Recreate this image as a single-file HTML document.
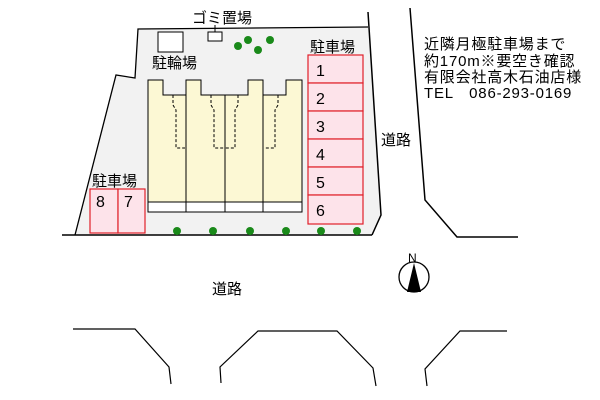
<!DOCTYPE html>
<html><head><meta charset="utf-8"><style>
body{margin:0;background:#fff;}
svg{display:block;font-family:"Liberation Sans","Noto Sans CJK JP",sans-serif;}
</style></head><body>
<svg width="600" height="400" viewBox="0 0 600 400" xmlns="http://www.w3.org/2000/svg">
<polygon points="138,29 370,27 381,215 372,235 75,235 116,75 135,78" fill="#f2f2f2" stroke="none"/>
<polyline points="368,12 381,215 372,235" fill="none" stroke="#000" stroke-width="1.5"/>
<polyline points="62,235 372,235" fill="none" stroke="#000" stroke-width="1.5"/>
<polyline points="75,235 116,75 135,78 138,29 368,27" fill="none" stroke="#000" stroke-width="1.3"/>
<polyline points="410,8 425,200 457,237 518,237" fill="none" stroke="#000" stroke-width="1.5"/>
<polyline points="73,329 135,329 169,367 171,384" fill="none" stroke="#000" stroke-width="1.2"/>
<polyline points="221,383 220,367 258,331 337,331 373,368 376,386" fill="none" stroke="#000" stroke-width="1.2"/>
<polyline points="427,386 425,369 460,331 507,331" fill="none" stroke="#000" stroke-width="1.2"/>
<g fill="#fcf8d4" stroke="#000" stroke-width="1">
<polygon points="148,80 163,80 163,95 186,95 186,212 148,212"/>
<polygon points="186,80 201,80 201,95 225,95 225,212 186,212"/>
<polygon points="225,95 248,95 248,80 263,80 263,212 225,212"/>
<polygon points="263,95 286,95 286,80 302,80 302,212 263,212"/>
</g>
<g fill="#fff" stroke="#000" stroke-width="1">
<rect x="148" y="202" width="38" height="10"/><rect x="186" y="202" width="39" height="10"/>
<rect x="225" y="202" width="38" height="10"/><rect x="263" y="202" width="39" height="10"/>
</g>
<g fill="none" stroke="#000" stroke-dasharray="3,2">
<polyline points="173,95 173,105 176,110 176,148 185,148"/>
<polyline points="211,95 211,105 214,110 214,148 225,148"/>
<polyline points="238,95 238,105 235,110 235,148 225,148"/>
<polyline points="278,95 278,105 275,110 275,148 265,148"/>
</g>
<rect x="158" y="32" width="25" height="20" fill="#fff" stroke="#000"/>
<rect x="208" y="32" width="14" height="9" fill="#fff" stroke="#000"/>
<line x1="215" y1="25" x2="215" y2="32" stroke="#000"/>
<g fill="#1a8a1a">
<circle cx="238" cy="46" r="4"/><circle cx="248" cy="40" r="4"/><circle cx="258" cy="50" r="4"/><circle cx="270" cy="40" r="4"/>
<circle cx="177" cy="231" r="4"/><circle cx="213" cy="231" r="4"/><circle cx="250" cy="231" r="4"/><circle cx="286" cy="231" r="4"/><circle cx="321" cy="231" r="4"/><circle cx="357" cy="231" r="4"/>
</g>
<g fill="#fde3ea" stroke="#e0202a" stroke-width="1.2">
<rect x="308" y="55" width="55" height="28"/><rect x="308" y="83" width="55" height="28"/>
<rect x="308" y="111" width="55" height="28"/><rect x="308" y="139" width="55" height="28"/>
<rect x="308" y="167" width="55" height="28"/><rect x="308" y="195" width="55" height="29"/>
<rect x="90" y="189" width="28" height="44"/><rect x="118" y="189" width="27" height="44"/>
</g>
<g font-size="16" fill="#000">
<text x="316" y="76">1</text><text x="316" y="104">2</text><text x="316" y="132">3</text>
<text x="316" y="160">4</text><text x="316" y="188">5</text><text x="316" y="216">6</text>
<text x="96" y="207">8</text><text x="124" y="207">7</text>
</g>
<g font-size="15" fill="#000">
<text x="192" y="23">ゴミ置場</text>
<text x="152" y="68">駐輪場</text>
<text x="310" y="52">駐車場</text>
<text x="92" y="186">駐車場</text>
<text x="381" y="145">道路</text>
<text x="212" y="294">道路</text>
</g>
<g font-size="15" fill="#000" letter-spacing="0.8">
<text x="424" y="49">近隣月極駐車場まで</text>
<text x="424" y="66">約170m※要空き確認</text>
<text x="424" y="82">有限会社高木石油店様</text>
<text x="424" y="98">TEL　086-293-0169</text>
</g>
<circle cx="414" cy="277" r="15" fill="#fff" stroke="#000" stroke-width="1.3"/>
<polygon points="414,263 407,292 421,292" fill="#000"/>
<text x="408" y="262" font-size="12">N</text>
</svg>
</body></html>
